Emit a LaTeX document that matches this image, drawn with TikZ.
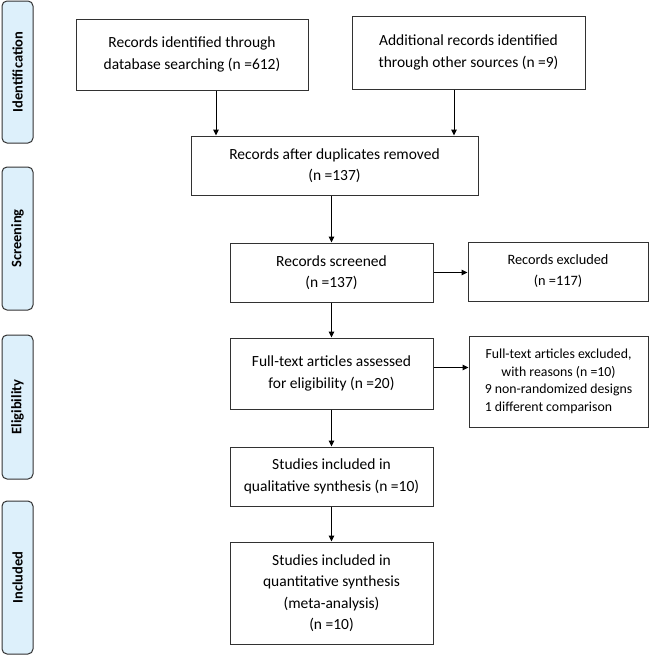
\documentclass[tikz,border=0pt]{standalone}
\usepackage{fontspec}
\setmainfont{Carlito}
\usetikzlibrary{arrows.meta}

\definecolor{phasefill}{RGB}{221,240,251}
\definecolor{boxline}{RGB}{50,50,50}

\tikzset{
    flowbox/.style={draw=boxline, line width=1pt, align=center,
        font=\fontsize{15.5}{21.5}\selectfont, inner sep=2pt},
    sidebox/.style={draw=boxline, line width=1pt, align=center,
        font=\fontsize{14.3}{21}\selectfont, inner sep=2pt},
    phase/.style={draw=boxline, fill=phasefill, rounded corners=5pt,
        line width=1pt, minimum width=31pt, font=\bfseries\fontsize{14.5}{16}\selectfont},
    arr/.style={-{Triangle[length=6pt,width=5.5pt]}, line width=1pt}
}

\begin{document}
\begin{tikzpicture}[x=1pt,y=-1pt]
        \useasboundingbox (0,0) rectangle (650,656);

        % phases on the left
        \node[phase, minimum height=142pt] (ident) at (17.5,72) {\rotatebox{90}{Identification}};
        \node[phase, minimum height=143pt] (screen) at (17.5,238.5) {\rotatebox{90}{Screening}};
        \node[phase, minimum height=144pt] (elig) at (17.5,407) {\rotatebox{90}{Eligibility}};
        \node[phase, minimum height=153pt] (incl) at (17.5,577.5) {\rotatebox{90}{Included}};

        % main flow
        \node[flowbox, minimum width=232pt, minimum height=71pt] (dbsearch) at (192,54.5)
            {Records identified through\\database searching (n =612)};
        \node[flowbox, minimum width=233pt, minimum height=73pt] (other) at (468.5,52.5)
            {Additional records identified\\through other sources (n =9)};
        \node[flowbox, minimum width=287pt, minimum height=59pt] (dupl) at (334.5,165.5)
            {Records after duplicates removed\\(n =137)};
        \node[flowbox, minimum width=203pt, minimum height=59pt] (screened) at (331.5,272.5)
            {Records screened\\(n =137)};
        \node[flowbox, minimum width=203pt, minimum height=71pt] (fulltext) at (331.5,373.5)
            {Full-text articles assessed\\for eligibility (n =20)};
        \node[flowbox, minimum width=203pt, minimum height=59pt] (qual) at (331.5,476.5)
            {Studies included in\\qualitative synthesis (n =10)};
        \node[flowbox, minimum width=203pt, minimum height=102pt] (quant) at (331.5,593)
            {Studies included in\\quantitative synthesis\\(meta-analysis)\\(n =10)};

        % exclusions
        \node[sidebox, minimum width=180pt, minimum height=59pt] (excl) at (558,271.5)
            {Records excluded\\(n =117)};
        \node[sidebox, minimum width=179pt, minimum height=91pt] (ftexcl) at (558.5,381.5)
            {\fontsize{13.8}{17.5}\selectfont
             \begin{tabular}{@{}l@{}}
             \multicolumn{1}{@{}c@{}}{Full-text articles excluded,}\\
             \multicolumn{1}{@{}c@{}}{with reasons (n =10)}\\
             9 non-randomized designs\\
             1 different comparison
             \end{tabular}};

        \draw[arr] ([xshift=24pt]dbsearch.south) -- ([xshift=24pt]dbsearch.south |- dupl.north);
        \draw[arr] ([xshift=-14.5pt]other.south) -- ([xshift=-14.5pt]other.south |- dupl.north);

        \foreach \from / \to in {dupl/screened, screened/fulltext, fulltext/qual, qual/quant}
            \draw[arr] (\from.south -| screened.south) -- (\to.north);

        \draw[arr] (screened.east) -- (screened.east -| excl.west);
        \draw[arr] ([yshift=6pt]fulltext.east) -- ([yshift=6pt]fulltext.east -| ftexcl.west);
    \end{tikzpicture}
\end{document}
